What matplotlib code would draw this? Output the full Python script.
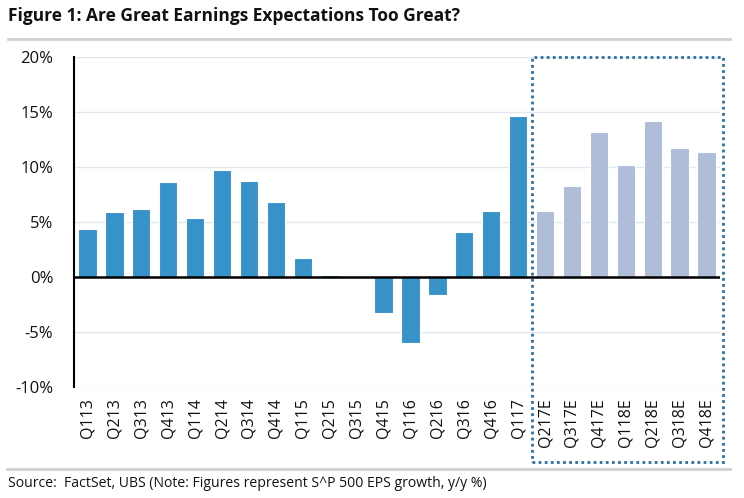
import matplotlib.pyplot as plt
from matplotlib.patches import Rectangle
from matplotlib.lines import Line2D

plt.rcParams['font.family'] = ['Open Sans', 'DejaVu Sans']

# 数据
quarters = ['Q113', 'Q213', 'Q313', 'Q413', 'Q114', 'Q214', 'Q314', 'Q414',
            'Q115', 'Q215', 'Q315', 'Q415', 'Q116', 'Q216', 'Q316', 'Q416', 'Q117']
actual = [4.4, 5.9, 6.2, 8.6, 5.35, 9.7, 8.7, 6.8,
          1.77, 0.2, -0.1, -3.3, -6.0, -1.6, 4.05, 6.0, 14.6]
est_quarters = ['Q217E', 'Q317E', 'Q417E', 'Q118E', 'Q218E', 'Q318E', 'Q418E']
estimates = [6.0, 8.3, 13.2, 10.2, 14.2, 11.7, 11.35]

labels = quarters + est_quarters
values = actual + estimates
colors = ['#3892CA'] * len(actual) + ['#B0BDD8'] * len(estimates)

fig = plt.figure(figsize=(7.44, 4.98), dpi=100, facecolor='white')
ax = fig.add_axes([74 / 744, 1 - 387 / 498, 646 / 744, 330 / 498])

x = range(len(labels))
ax.bar(x, values, width=0.68, color=colors, edgecolor='white', linewidth=0.8, zorder=2)

ax.set_xlim(-0.5, len(labels) - 0.5)
ax.set_ylim(-10, 20)
ax.set_yticks([-10, -5, 0, 5, 10, 15, 20])
ax.set_yticklabels(['-10%', '-5%', '0%', '5%', '10%', '15%', '20%'], fontsize=12, color='#111111')
ax.set_xticks(list(x))
ax.set_xticklabels(labels, rotation=90, fontsize=11.5, color='#111111')
ax.tick_params(length=0, pad=8)
ax.tick_params(axis='y', pad=15)

ax.grid(axis='y', color='#E4E6EE', linewidth=1, zorder=0)
ax.axhline(0, color='black', linewidth=1.8, zorder=3)
for s in ['top', 'right', 'bottom']:
    ax.spines[s].set_visible(False)
ax.spines['left'].set_linewidth(1.5)

# 预测区的虚线框
box = Rectangle((16.5, -16.8), 7.1, 36.8, fill=False, edgecolor='#2E6FA3',
                linestyle=(0, (1, 1.2)), linewidth=2, clip_on=False, zorder=4)
ax.add_patch(box)

# 标题、分隔线和来源
fig.text(8 / 744, 1 - 16 / 498, 'Figure 1: Are Great Earnings Expectations Too Great?',
         fontsize=12.5, fontweight='bold', va='center', ha='left', color='#111111')
fig.add_artist(Line2D([8 / 744, 730 / 744], [1 - 39 / 498, 1 - 39 / 498],
                      color='#D0D0D0', linewidth=2))
fig.add_artist(Line2D([7 / 744, 730 / 744], [1 - 469 / 498, 1 - 469 / 498],
                      color='#D0D0D0', linewidth=2))
fig.text(8 / 744, 1 - 483 / 498,
         'Source:  FactSet, UBS (Note: Figures represent S^P 500 EPS growth, y/y %)',
         fontsize=10.1, va='center', ha='left', color='#111111')

fig.savefig('out.png', dpi=100)
